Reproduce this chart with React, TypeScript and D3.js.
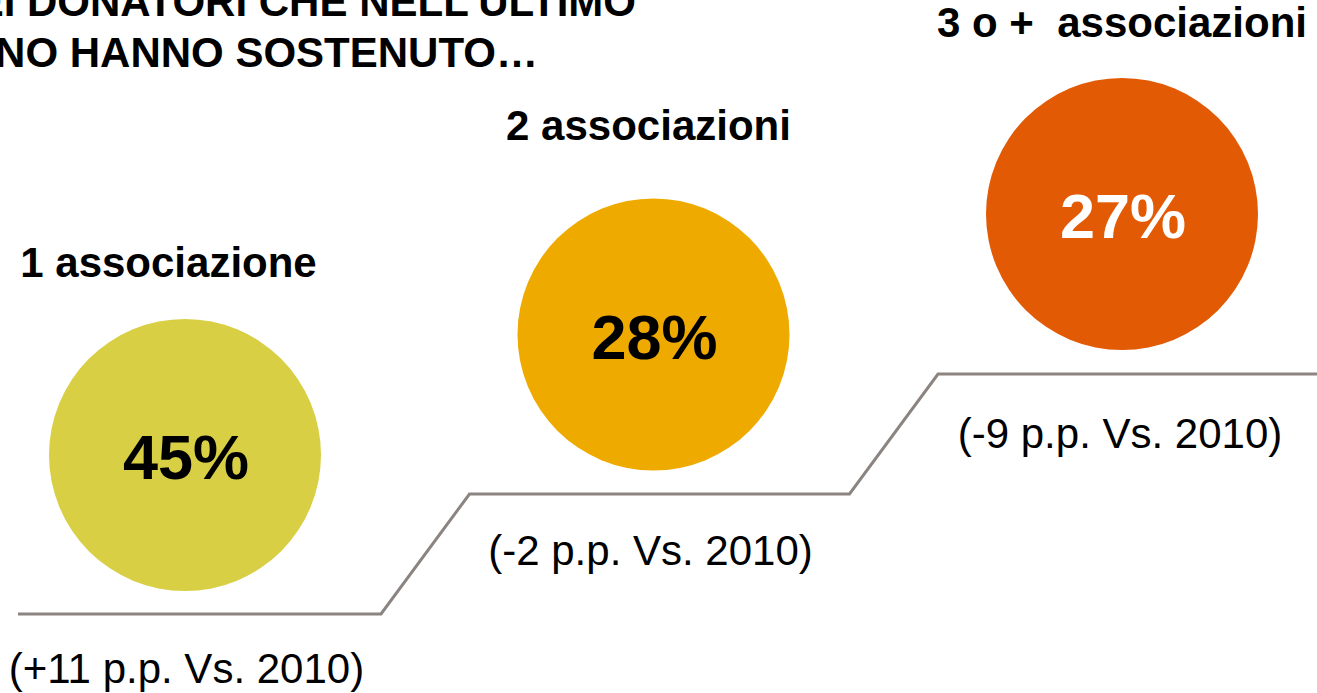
import React from "react";
import * as d3 from "d3";

const categories = ["1 associazione", "2 associazioni", "3 o +  associazioni"];
const values = [45, 28, 27];
const changes = ["(+11 p.p. Vs. 2010)", "(-2 p.p. Vs. 2010)", "(-9 p.p. Vs. 2010)"];
const colors = ["#D9CF45", "#EFAA00", "#E35A05"];
const valueTextColors = ["#000000", "#000000", "#FFFFFF"];
const titleLines = ["DEI DONATORI CHE NELL\u2019ULTIMO", "ANNO HANNO SOSTENUTO\u2026"];

const W = 1317;
const H = 693;
const FONT = "'Liberation Sans', Arial, sans-serif";

export default function App() {
  const idx = categories.map((_, i) => i);
  const x = d3.scalePoint<number>().domain(idx).range([185, 1122]);
  const cy = d3.scaleLinear().domain([0, 2]).range([455, 214]);
  const stepY = d3.scaleLinear().domain([0, 2]).range([614, 374]);
  const r = 136;

  const catDx = [-16.5, -5, 0];
  const catY = [277, 140, 37];
  const chgDx = [1.5, -3, -2];
  const chgDy = [69, 71, 74];

  const pts: [number, number][] = [];
  idx.forEach((i) => {
    const cx = x(i)!;
    const left = i === 0 ? 18 : cx - 184;
    const right = i === 2 ? W : cx + 196;
    pts.push([left, stepY(i)]);
    pts.push([right, stepY(i)]);
  });
  const line = d3.line();

  return (
    <svg
      width={W}
      height={H}
      style={{ position: "absolute", left: 0, top: 0, background: "#fff" }}
      fontFamily={FONT}
    >
      {titleLines.map((t, i) => (
        <text
          key={i}
          x={i === 0 ? 636 : 538}
          y={i === 0 ? 16 : 67}
          textAnchor="end"
          fontSize={42}
          fontWeight="bold"
          fill="#000"
        >
          {t}
        </text>
      ))}
      <path d={line(pts) || ""} fill="none" stroke="#8C8480" strokeWidth={3} />
      {idx.map((i) => (
        <g key={i}>
          <circle cx={x(i)} cy={cy(i)} r={r} fill={colors[i]} />
          <text
            x={x(i)! + 1}
            y={cy(i) + 24}
            textAnchor="middle"
            fontSize={63}
            fontWeight="bold"
            fill={valueTextColors[i]}
          >
            {values[i]}%
          </text>
          <text
            x={x(i)! + catDx[i]}
            y={catY[i]}
            textAnchor="middle"
            fontSize={42}
            fontWeight="bold"
            fill="#000"
            style={{ whiteSpace: "pre" }}
          >
            {categories[i]}
          </text>
          <text
            x={x(i)! + chgDx[i]}
            y={stepY(i) + chgDy[i]}
            textAnchor="middle"
            fontSize={42}
            fill="#000"
          >
            {changes[i]}
          </text>
        </g>
      ))}
    </svg>
  );
}
